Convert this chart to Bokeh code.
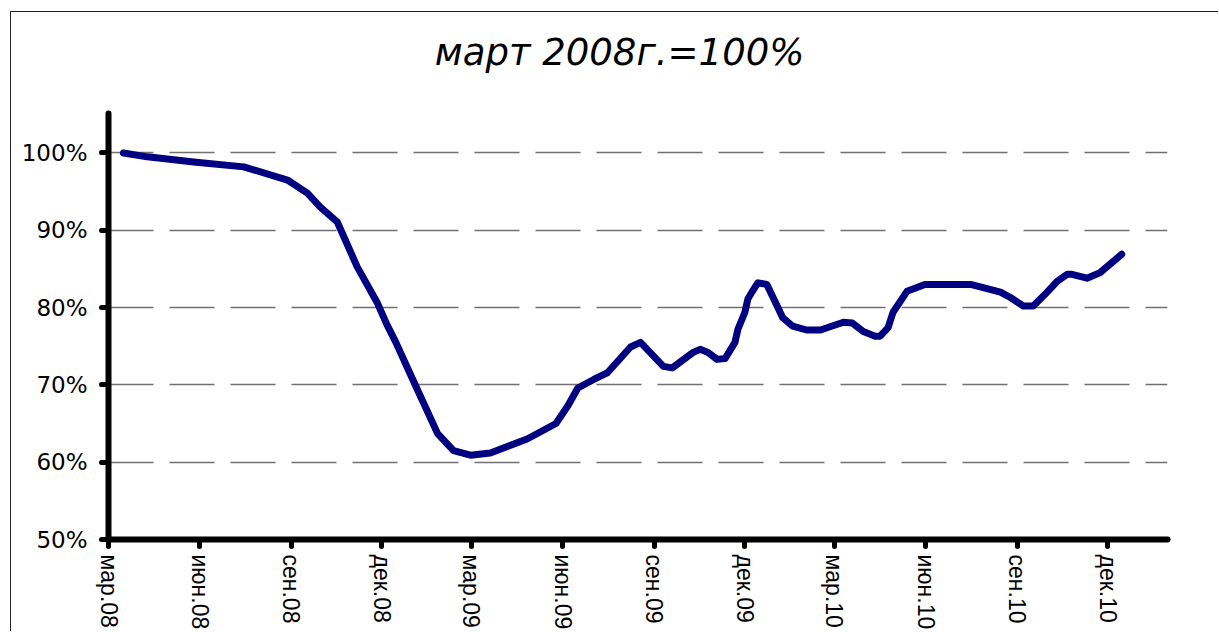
import pandas as pd
from bokeh.plotting import figure
from bokeh.models import FixedTicker, Range1d, Label
from bokeh.embed import file_html
from bokeh.resources import INLINE

# ---- data ----
dates = ["2008-03-16", "2008-04-09", "2008-05-28", "2008-07-15", "2008-08-28",
         "2008-09-17", "2008-09-30", "2008-10-17", "2008-11-06", "2008-11-26",
         "2008-12-06", "2008-12-15", "2009-01-02", "2009-01-26", "2009-02-11",
         "2009-02-28", "2009-03-20", "2009-04-26", "2009-05-25", "2009-06-06",
         "2009-06-16", "2009-07-02", "2009-07-16", "2009-08-08", "2009-08-18",
         "2009-09-10", "2009-09-19", "2009-10-10", "2009-10-17", "2009-10-25",
         "2009-11-03", "2009-11-11", "2009-11-21", "2009-11-24", "2009-12-01",
         "2009-12-04", "2009-12-08", "2009-12-14", "2009-12-23", "2009-12-29",
         "2010-01-08", "2010-01-18", "2010-02-01", "2010-02-15", "2010-03-10",
         "2010-03-19", "2010-03-30", "2010-04-11", "2010-04-16", "2010-04-24",
         "2010-04-29", "2010-05-13", "2010-05-31", "2010-07-16", "2010-08-15",
         "2010-08-25", "2010-09-07", "2010-09-17", "2010-10-01", "2010-10-11",
         "2010-10-21", "2010-10-26", "2010-11-10", "2010-11-23", "2010-12-15"]

values = [100.0, 99.5, 98.8, 98.2, 96.5, 94.8, 93.0, 91.1, 85.3, 80.7,
          77.8, 75.5, 70.4, 63.7, 61.5, 60.9, 61.2, 63.0, 65.0, 67.3,
          69.6, 70.7, 71.6, 74.9, 75.5, 72.4, 72.2, 74.2, 74.6, 74.2,
          73.3, 73.4, 75.5, 77.2, 79.4, 81.1, 82.0, 83.2, 83.0, 81.4,
          78.7, 77.6, 77.1, 77.1, 78.1, 78.0, 76.9, 76.3, 76.3, 77.4,
          79.4, 82.1, 83.0, 83.0, 82.0, 81.3, 80.2, 80.2, 82.0, 83.4,
          84.3, 84.3, 83.8, 84.5, 86.9]

x_tick_dates = ["2008-03-01", "2008-06-01", "2008-09-01", "2008-12-01",
                "2009-03-01", "2009-06-01", "2009-09-01", "2009-12-01",
                "2010-03-01", "2010-06-01", "2010-09-01", "2010-12-01"]
x_tick_labels = ["мар.08", "июн.08", "сен.08", "дек.08",
                 "мар.09", "июн.09", "сен.09", "дек.09",
                 "мар.10", "июн.10", "сен.10", "дек.10"]

y_ticks = [50, 60, 70, 80, 90, 100]
y_tick_labels = ["50%", "60%", "70%", "80%", "90%", "100%"]
y_grid_ticks = [60, 70, 80, 90, 100]

x_start, x_end = "2008-03-01", "2011-01-30"
y_start, y_axis_top, y_end = 50, 105.1, 118.17

title_text = "март 2008г.=100%"
title_x_date, title_y = "2009-07-28", 113.0


def ms(s):
    return int(pd.Timestamp(s).value // 10**6)


xs = [ms(d) for d in dates]
xt = [ms(d) for d in x_tick_dates]

W, H = 1208, 620
FL, FR, FB = 97, 1156, 529

p = figure(width=W, height=H, output_backend="svg", toolbar_location=None,
           title=None,
           x_range=Range1d(ms(x_start), ms(x_end)),
           y_range=Range1d(y_start, y_end),
           min_border_left=FL, min_border_right=W - FR,
           min_border_top=0, min_border_bottom=H - FB,
           styles={"margin-left": "10px", "margin-top": "11px",
                   "border-left": "1px solid #222", "border-top": "1px solid #222"})
p.outline_line_color = None
p.background_fill_color = "white"
p.border_fill_color = "white"

# title (as a label inside the plot area)
p.add_layout(Label(x=ms(title_x_date), y=title_y, text=title_text,
                   text_font="DejaVu Sans", text_font_style="italic",
                   text_font_size="37px", text_color="black",
                   text_align="center", text_baseline="middle"))

# line
p.line(xs, values, line_color="#000080", line_width=7,
       line_join="round", line_cap="round")

# y axis
ya = p.yaxis[0]
ya.ticker = FixedTicker(ticks=y_ticks)
ya.bounds = (y_start, y_axis_top)
ya.major_label_overrides = {t: l for t, l in zip(y_ticks, y_tick_labels)}
ya.major_label_text_font = "DejaVu Sans"
ya.major_label_text_font_size = "23px"
ya.major_label_text_color = "black"
ya.major_label_standoff = 14
ya.axis_line_width = 6
ya.axis_line_color = "black"
ya.axis_line_cap = "round"
ya.major_tick_line_width = 5
ya.major_tick_line_cap = "round"
ya.major_tick_out = 7
ya.major_tick_in = 0
ya.minor_tick_line_color = None

# x axis
xa = p.xaxis[0]
xa.ticker = FixedTicker(ticks=xt)
xa.major_label_overrides = {t: l for t, l in zip(xt, x_tick_labels)}
xa.major_label_orientation = "vertical"
xa.major_label_text_font = "Liberation Sans"
xa.major_label_text_font_size = "23px"
xa.major_label_text_color = "black"
xa.major_label_standoff = 8
xa.axis_line_width = 6
xa.axis_line_color = "black"
xa.axis_line_cap = "round"
xa.major_tick_line_width = 5
xa.major_tick_line_cap = "round"
xa.major_tick_out = 7
xa.major_tick_in = 0
xa.minor_tick_line_color = None

# grid
p.xgrid.visible = False
p.ygrid.ticker = FixedTicker(ticks=y_grid_ticks)
p.ygrid.grid_line_color = "#707070"
p.ygrid.grid_line_width = 1.5
p.ygrid.grid_line_dash = "45 16"

open("out.html", "w").write(file_html(p, INLINE))
